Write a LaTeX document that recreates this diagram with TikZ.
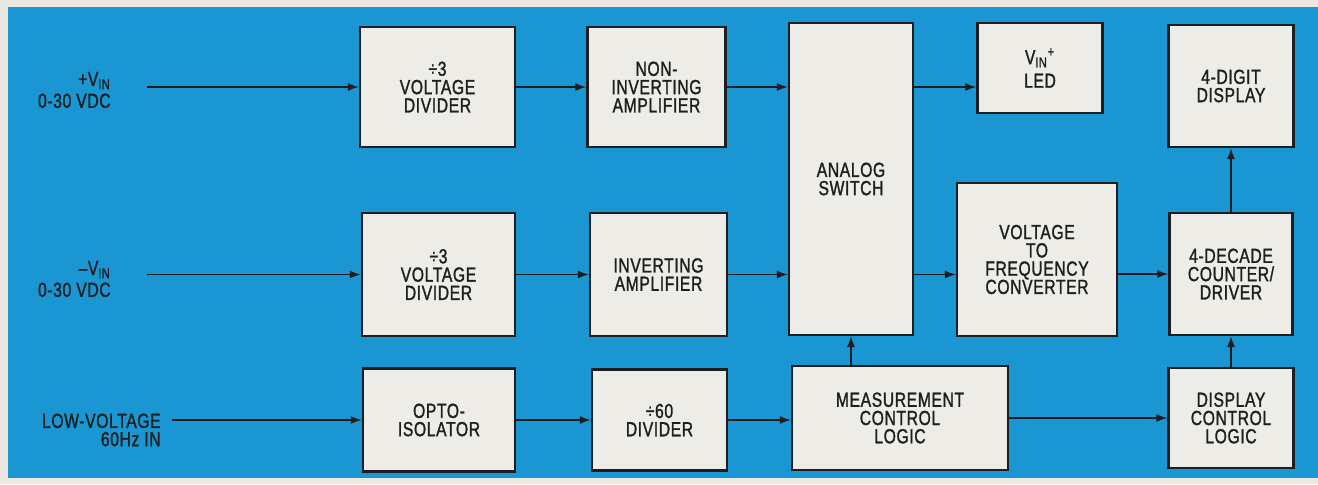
\documentclass[tikz,border=0pt]{standalone}
\usepackage{fontspec}
\setmainfont{Liberation Sans}[FakeStretch=0.77,FakeBold=1.3,LetterSpace=3]
\usetikzlibrary{arrows.meta,calc,positioning}
\definecolor{panel}{RGB}{26,150,210}
\definecolor{paper}{RGB}{234,232,225}
\definecolor{boxfill}{RGB}{237,236,231}
\definecolor{ink}{RGB}{30,30,32}
\tikzset{
 blk/.style={draw=ink,line width=1.3pt,fill=boxfill,text=ink,align=center,inner sep=0pt},
 lbl/.style={text=ink,anchor=east,align=right,inner sep=0pt},
 ar/.style={draw=ink,line width=.9pt,-{Latex[length=2.2mm,width=1.6mm]}}
}
\begin{document}
\begin{tikzpicture}[x=.02cm,y=-.02cm,font={\fontsize{11.6}{10.4}\selectfont}]
\useasboundingbox (0,0) rectangle (1318,484);
\fill[paper] (0,0) rectangle (1318,484);
\fill[panel] (8,7) rectangle (1318,478);
% top row
\node[blk,minimum width=3.1cm,minimum height=2.4cm] (div1) at (437.5,87) {÷3\\VOLTAGE\\DIVIDER};
\node[blk,minimum width=2.76cm,minimum height=2.4cm] (noninv) at (656.5,87) {NON-\\INVERTING\\AMPLIFIER};
\node[blk,minimum width=2.48cm,minimum height=6.24cm] (analog) at (851,179) {ANALOG\\SWITCH};
\node[blk,minimum width=2.5cm,minimum height=1.8cm] (led) at (1040,68) {V\textsubscript{IN}\textsuperscript{+}\\[3pt]LED};
\node[blk,minimum width=2.5cm,minimum height=2.44cm] (disp) at (1231,86) {4-DIGIT\\DISPLAY};
% middle row
\node[blk,minimum width=3.06cm,minimum height=2.46cm] (div2) at (438.5,274.5) {÷3\\VOLTAGE\\DIVIDER};
\node[blk,minimum width=2.74cm,minimum height=2.46cm] (inv) at (658.5,274.5) {INVERTING\\AMPLIFIER};
\node[blk,minimum width=3.2cm,minimum height=3.06cm] (vtof) at (1037,259.5) {VOLTAGE\\TO\\FREQUENCY\\CONVERTER};
\node[blk,minimum width=2.46cm,minimum height=2.44cm] (counter) at (1231,274) {4-DECADE\\COUNTER/\\DRIVER};
% bottom row
\node[blk,minimum width=3.04cm,minimum height=2.06cm] (opto) at (439,420) {OPTO-\\ISOLATOR};
\node[blk,minimum width=2.7cm,minimum height=2.02cm] (div60) at (659.5,420) {÷60\\DIVIDER};
\node[blk,minimum width=4.32cm,minimum height=2.08cm] (mcl) at (900,418) {MEASUREMENT\\CONTROL\\LOGIC};
\node[blk,minimum width=2.5cm,minimum height=2cm] (dctrl) at (1231,418) {DISPLAY\\CONTROL\\LOGIC};
% inputs
\node[lbl] (vplus) at (111,90) {+V\textsubscript{IN}\\[2pt]0-30 VDC};
\node[lbl] (vminus) at (111,279) {–V\textsubscript{IN}\\[2pt]0-30 VDC};
\node[lbl] (lowv) at (161,430) {LOW-VOLTAGE\\60Hz IN};
\coordinate (inp) at (147,87);
\coordinate (inm) at (147,274.5);
\coordinate (inl) at (172,420);
% signal flow
\foreach \a/\b in {inp/div1,div1/noninv,inm/div2,div2/inv,inl/opto,opto/div60,mcl/dctrl,dctrl/counter,counter/disp}
 \draw[ar] (\a) -- (\b);
\draw[ar] (noninv) -- (noninv -| analog.west);
\draw[ar] (analog.east |- noninv) -- (led.west |- noninv);
\draw[ar] (inv) -- (inv -| analog.west);
\draw[ar] (analog.east |- inv) -- (vtof.west |- inv);
\draw[ar] (vtof.east |- counter) -- (counter);
\draw[ar] (div60) -- (div60 -| mcl.west);
\draw[ar] (mcl.north -| analog) -- (analog.south);
\end{tikzpicture}
\end{document}
